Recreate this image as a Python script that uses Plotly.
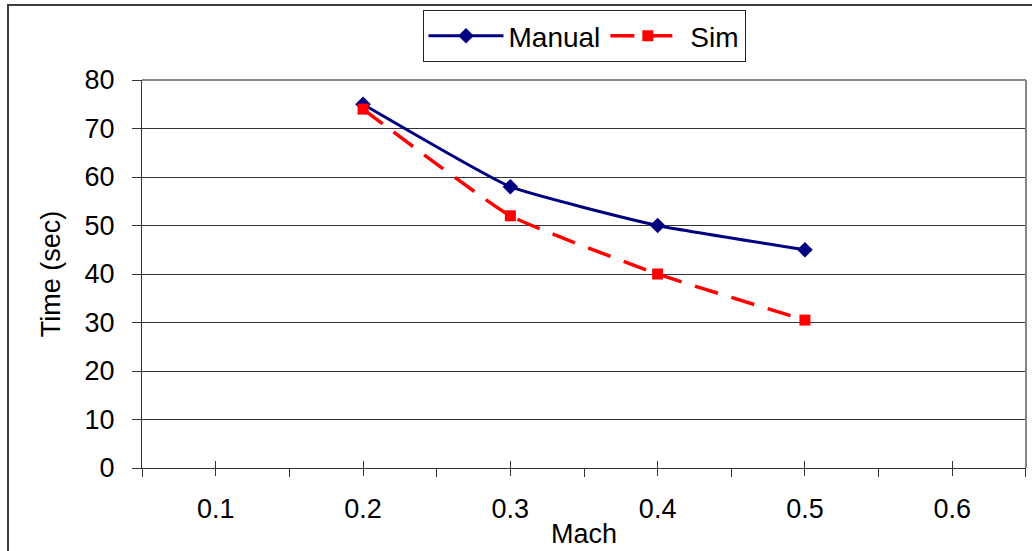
import plotly.graph_objects as go

mach = [0.2, 0.3, 0.4, 0.5]
manual = [75, 58, 50, 45]
sim = [74, 52, 40, 30.5]

W, H = 1032, 551
L, R, T, B = 142, 6, 80, 83
FONT = "Liberation Sans, Arial, sans-serif"

fig = go.Figure()
fig.add_trace(go.Scatter(
    x=mach, y=manual, name="Manual", mode="lines+markers",
    line=dict(color="#000080", width=3, shape="spline", smoothing=0.4),
    marker=dict(symbol="diamond", size=12, color="#000080"),
))
fig.add_trace(go.Scatter(
    x=mach, y=sim, name="Sim", mode="lines+markers",
    line=dict(color="#FF0000", width=3.5, shape="spline", smoothing=0.4, dash="24px,14px"),
    marker=dict(symbol="square", size=11, color="#FF0000"),
))

pw = W - L - R
ph = H - T - B

fig.update_layout(
    width=W, height=H,
    margin=dict(l=L, r=R, t=T, b=B, autoexpand=False),
    paper_bgcolor="white", plot_bgcolor="white",
    font=dict(family=FONT, color="black", size=27),
    showlegend=True,
    legend=dict(
        orientation="h", x=0.5, xanchor="center",
        y=(H - B - 10) / ph, yanchor="top",
        bordercolor="#222222", borderwidth=1, bgcolor="white",
        font=dict(size=28), itemwidth=75, tracegroupgap=0,
    ),
    xaxis=dict(
        range=[0.0499, 0.6501], tick0=0.1, dtick=0.1, tickformat=".1f",
        showgrid=False, zeroline=False,
        showline=True, linecolor="#333333", linewidth=1,
        ticks="outside", ticklen=7, tickcolor="#333333",
        minor=dict(ticks="outside", ticklen=8, tick0=0.05, dtick=0.05, tickcolor="#333333", showgrid=False),
        tickfont=dict(size=27), ticklabelstandoff=10,
        title=dict(text="Mach", font=dict(size=27), standoff=0),
    ),
    xaxis2=dict(
        overlaying="x", matches="x", range=[0.0499, 0.6501], tick0=0.1, dtick=0.1,
        showgrid=False, zeroline=False, showline=False,
        ticks="inside", ticklen=7, tickcolor="#333333", showticklabels=False,
        side="bottom",
    ),
    yaxis=dict(
        range=[0, 80], dtick=10,
        showgrid=True, gridcolor="#333333", gridwidth=1, zeroline=False,
        showline=True, linecolor="#333333", linewidth=1,
        ticks="outside", ticklen=9, tickcolor="#333333",
        tickfont=dict(size=27), ticklabelstandoff=12,
        title=dict(text="Time (sec)", font=dict(size=27), standoff=16),
    ),
    shapes=[
        dict(type="line", xref="paper", yref="paper", x0=0, x1=1, y0=1, y1=1,
             line=dict(color="#888888", width=2), layer="above"),
        dict(type="line", xref="paper", yref="paper", x0=1, x1=1, y0=0, y1=1,
             line=dict(color="#888888", width=2), layer="above"),
        dict(type="rect", xref="paper", yref="paper",
             x0=(8 - L) / pw, x1=1.2, y0=-0.5, y1=(H - B - 5) / ph,
             line=dict(color="#404040", width=2), layer="above"),
    ],
)
# invisible trace to activate overlay axis for crossing ticks
fig.add_trace(go.Scatter(x=[None], y=[None], xaxis="x2", showlegend=False, hoverinfo="skip"))

fig.write_html("out.html")
